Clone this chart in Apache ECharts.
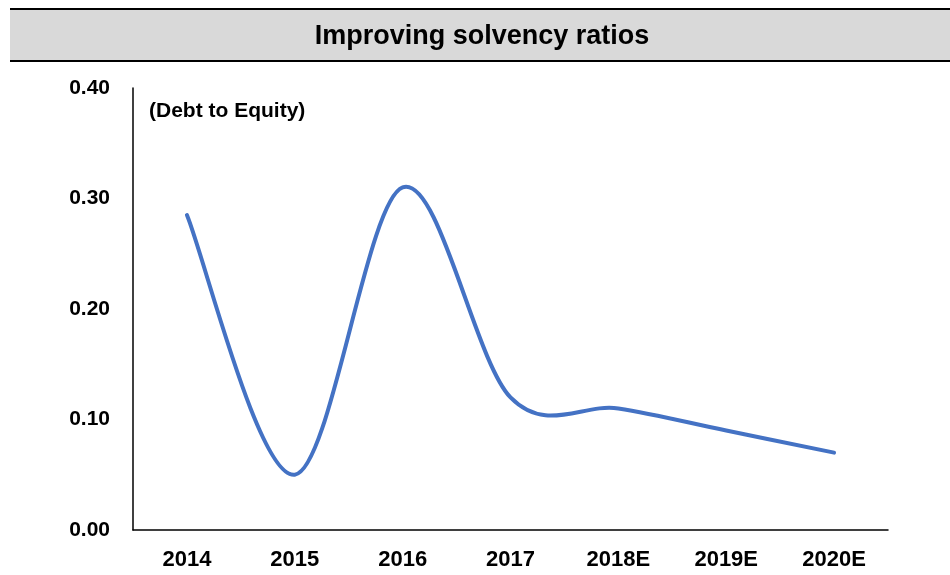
<!DOCTYPE html>
<html>
<head>
<meta charset="utf-8">
<script src="https://cdn.jsdelivr.net/npm/echarts@6/dist/echarts.min.js"></script>
<style>
  html, body { margin: 0; padding: 0; background: #fff; }
  #chart { width: 950px; height: 575px; }
</style>
</head>
<body>
<div id="chart"></div>
<script>
// Debt-to-equity ratio by year (E = estimate)
const years = ['2014', '2015', '2016', '2017', '2018E', '2019E', '2020E'];
const debtToEquity = [0.285, 0.05, 0.31, 0.12, 0.11, 0.09, 0.07];
const yTicks = { min: 0, max: 0.4, interval: 0.1 };

const font = 'Liberation Sans, Arial, sans-serif';
const lineColor = '#4472C4';
const chart = echarts.init(document.getElementById('chart'), null, { renderer: 'canvas' });

// Smoothed line: cubic Bezier through every point, tangents from neighbouring
// points (Catmull-Rom, 1/6 tension), all positions from the axis scales.
function renderSmoothLine(params, api) {
  if (params.dataIndex !== 0) return null;
  const n = debtToEquity.length;
  const pts = [];
  for (let i = 0; i < n; i++) pts.push(api.coord([i, debtToEquity[i]]));
  let d = 'M' + pts[0][0] + ' ' + pts[0][1];
  for (let i = 0; i < n - 1; i++) {
    const p0 = pts[Math.max(i - 1, 0)];
    const p1 = pts[i];
    const p2 = pts[i + 1];
    const p3 = pts[Math.min(i + 2, n - 1)];
    const c1x = p1[0] + (p2[0] - p0[0]) / 6;
    const c1y = p1[1] + (p2[1] - p0[1]) / 6;
    const c2x = p2[0] - (p3[0] - p1[0]) / 6;
    const c2y = p2[1] - (p3[1] - p1[1]) / 6;
    d += ' C' + c1x + ' ' + c1y + ' ' + c2x + ' ' + c2y + ' ' + p2[0] + ' ' + p2[1];
  }
  return {
    type: 'path',
    shape: { pathData: d },
    style: { fill: 'none', stroke: lineColor, lineWidth: 4, lineCap: 'round', lineJoin: 'round' }
  };
}

chart.setOption({
  animation: false,
  backgroundColor: '#ffffff',
  graphic: [
    // title band
    { type: 'rect', left: 10, top: 10, shape: { width: 940, height: 50 }, style: { fill: '#D9D9D9' }, z: 0 },
    { type: 'rect', left: 10, top: 8, shape: { width: 940, height: 2 }, style: { fill: '#000' }, z: 1 },
    { type: 'rect', left: 10, top: 60, shape: { width: 940, height: 2 }, style: { fill: '#000' }, z: 1 },
    {
      type: 'text', x: 482, y: 37, z: 2,
      style: {
        text: 'Improving solvency ratios', font: 'bold 27px ' + font, fill: '#000',
        align: 'center', verticalAlign: 'middle'
      }
    },
    {
      type: 'text', left: 149, top: 101, z: 2,
      style: { text: '(Debt to Equity)', font: 'bold 21px ' + font, fill: '#000' }
    }
  ],
  grid: { left: 133, right: 62, top: 88, bottom: 45, containLabel: false },
  xAxis: {
    type: 'category',
    data: years,
    boundaryGap: true,
    axisLine: { show: true, lineStyle: { color: '#000', width: 1.5 } },
    axisTick: { show: false },
    axisLabel: { color: '#000', fontFamily: font, fontWeight: 'bold', fontSize: 22, margin: 19 },
    splitLine: { show: false }
  },
  yAxis: {
    type: 'value',
    min: yTicks.min,
    max: yTicks.max,
    interval: yTicks.interval,
    axisLine: { show: true, lineStyle: { color: '#000', width: 1.5 } },
    axisTick: { show: false },
    splitLine: { show: false },
    axisLabel: {
      color: '#000', fontFamily: font, fontWeight: 'bold', fontSize: 21, margin: 23,
      formatter: v => v.toFixed(2)
    }
  },
  series: [{
    type: 'custom',
    data: debtToEquity.map((v, i) => [i, v]),
    encode: { x: 0, y: 1 },
    renderItem: renderSmoothLine,
    clip: false
  }]
});
</script>
</body>
</html>
